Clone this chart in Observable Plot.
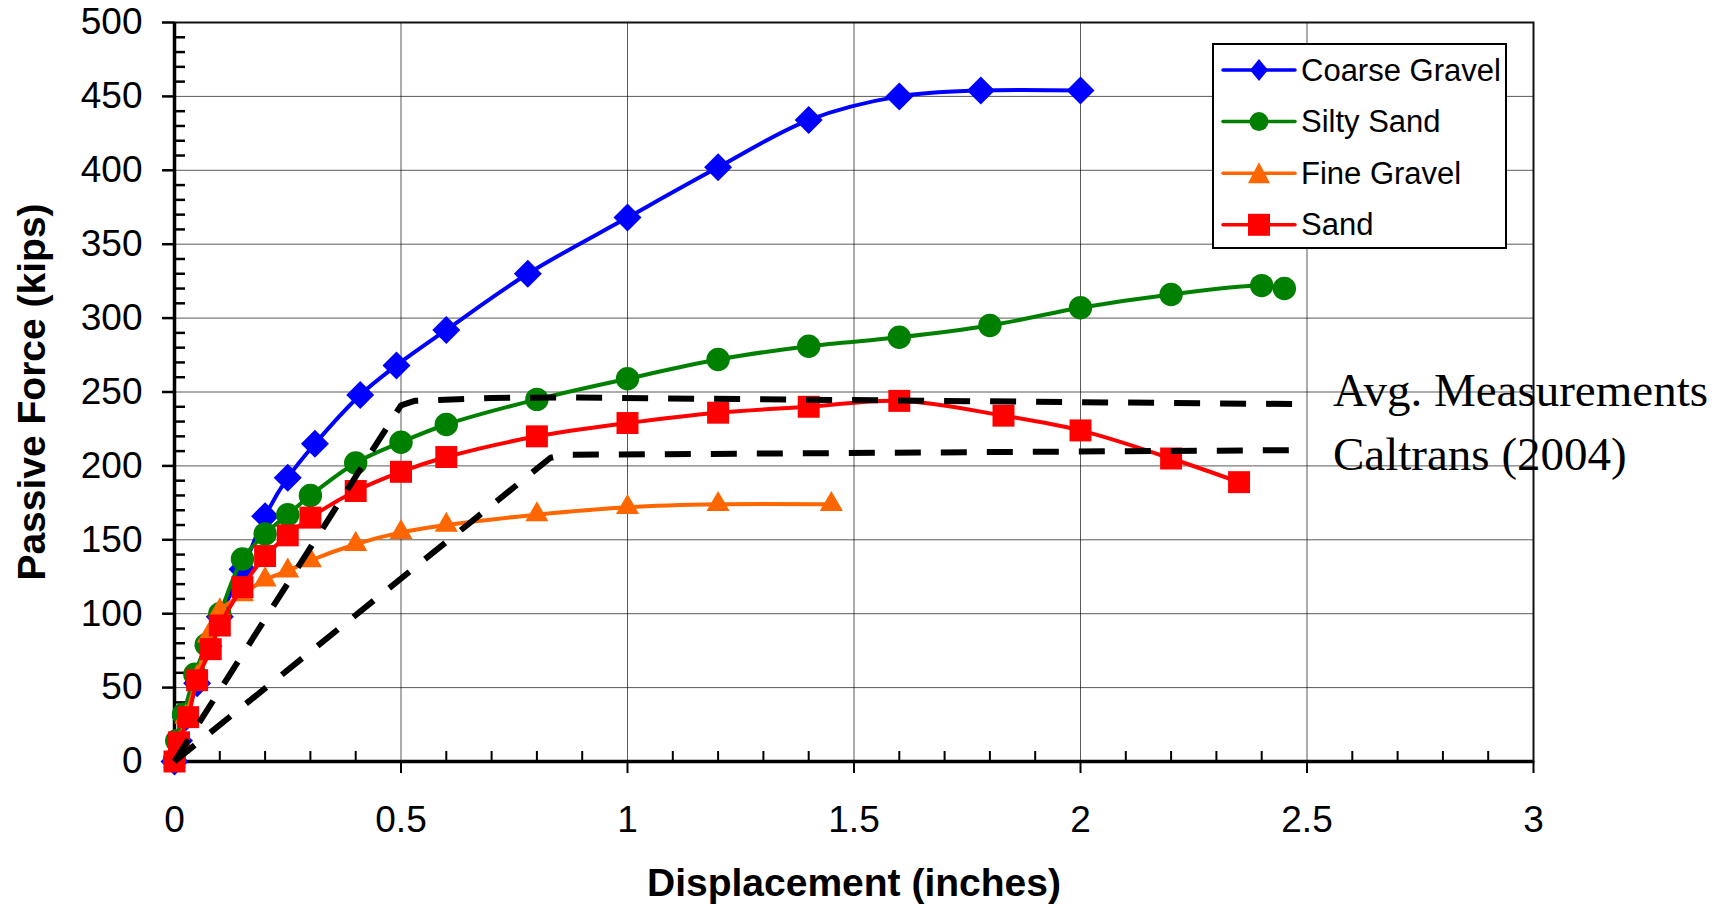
<!DOCTYPE html>
<html>
<head>
<meta charset="utf-8">
<script src="https://cdn.jsdelivr.net/npm/d3@7"></script>
<script src="https://cdn.jsdelivr.net/npm/@observablehq/plot@0.6"></script>
<style>
  html, body { margin: 0; padding: 0; background: #fff; }
  #chart { position: relative; width: 1736px; height: 906px; }
  #legend { position: absolute; left: 1212px; top: 43px; }
</style>
</head>
<body>
<div id="chart"></div>
<script>
// Passive force vs. wall displacement for four backfill types,
// with the averaged measurement and Caltrans (2004) design curves.

const coarseGravelX = [0, 0.01, 0.025, 0.05, 0.075, 0.1, 0.15, 0.2, 0.25, 0.31, 0.41, 0.49, 0.6, 0.78, 1.0, 1.2, 1.4, 1.6, 1.78, 2.0];
const coarseGravelY = [0, 14, 30, 53, 78, 98, 130, 166, 192, 215, 248, 268, 292, 330, 368, 402, 434, 450, 454, 454];

const siltySandX = [0, 0.005, 0.02, 0.045, 0.07, 0.1, 0.15, 0.2, 0.25, 0.3, 0.4, 0.5, 0.6, 0.8, 1.0, 1.2, 1.4, 1.6, 1.8, 2.0, 2.2, 2.4, 2.45];
const siltySandY = [1, 14, 32, 59, 79, 100, 137, 154, 167, 180, 202, 216, 228, 245, 259, 272, 281, 287, 295, 307, 316, 322, 320];

const fineGravelX = [0, 0.01, 0.025, 0.05, 0.075, 0.1, 0.15, 0.2, 0.25, 0.3, 0.4, 0.5, 0.6, 0.8, 1.0, 1.2, 1.45];
const fineGravelY = [0, 12, 30, 57, 85, 102, 113, 123, 129, 136, 147, 155, 160, 167, 172, 174, 174];

const sandX = [0, 0.01, 0.03, 0.05, 0.08, 0.1, 0.15, 0.2, 0.25, 0.3, 0.4, 0.5, 0.6, 0.8, 1.0, 1.2, 1.4, 1.6, 1.83, 2.0, 2.2, 2.35];
const sandY = [0, 13, 30, 55, 76, 92, 118, 139, 153, 165, 183, 196, 206, 220, 229, 236, 240, 244, 234, 224, 205, 189];

const avgMeasX = [0, 0.5, 0.53, 0.7, 0.85, 2.48];
const avgMeasY = [0, 241, 244, 246, 246.3, 241.8];

const caltransX = [0, 0.83, 0.86, 2.5];
const caltransY = [0, 205.5, 207.5, 210.7];

const xTicks = [0, 0.5, 1, 1.5, 2, 2.5, 3];
const yTicks = [0, 50, 100, 150, 200, 250, 300, 350, 400, 450, 500];
const xLabel = "Displacement (inches)";
const yLabel = "Passive Force (kips)";
const avgLabel = "Avg. Measurements";
const caltransLabel = "Caltrans (2004)";

const seriesNames = ["Coarse Gravel", "Silty Sand", "Fine Gravel", "Sand"];
const seriesColors = ["#0000ff", "#008000", "#ff6600", "#ff0000"];

// Layout
const W = 1736, H = 906;
const mL = 174, mR = 203, mT = 22, mB = 145;
const frameW = W - mL - mR, frameH = H - mT - mB;

const toRows = (xs, ys) => xs.map((x, i) => ({x, y: ys[i]}));
const coarse = toRows(coarseGravelX, coarseGravelY);
const silty = toRows(siltySandX, siltySandY);
const fine = toRows(fineGravelX, fineGravelY);
const sand = toRows(sandX, sandY);
const avgMeas = toRows(avgMeasX, avgMeasY);
const caltrans = toRows(caltransX, caltransY);

const yMinor = d3.range(10, 500, 10).filter(v => v % 50 !== 0);
const xMinor = d3.range(1, 30).map(v => v / 10).filter(v => Math.round(v * 10) % 5 !== 0);

function series(data, color, symbol, r) {
  return [
    Plot.line(data, {x: "x", y: "y", stroke: color, strokeWidth: 4, curve: "catmull-rom"}),
    Plot.dot(data, {x: "x", y: "y", symbol, r, fill: color, stroke: "none"})
  ];
}

const chart = Plot.plot({
  width: W, height: H,
  marginLeft: mL, marginRight: mR, marginTop: mT, marginBottom: mB,
  x: {domain: [0, 3]},
  y: {domain: [0, 500]},
  style: {fontFamily: '"Liberation Sans", Arial, sans-serif', background: "white", color: "#000", overflow: "visible"},
  marks: [
    Plot.gridX({ticks: xTicks.slice(1), stroke: "#000", strokeOpacity: 0.65, strokeWidth: 1}),
    Plot.gridY({ticks: yTicks.slice(1), stroke: "#000", strokeOpacity: 0.65, strokeWidth: 1}),
    Plot.frame({stroke: "#111", strokeWidth: 2}),
    // inward minor ticks
    Plot.ruleY(yMinor, {y: d => d, insetRight: frameW - 11, stroke: "#000", strokeWidth: 2.5}),
    Plot.ruleX(xMinor, {x: d => d, insetTop: frameH - 10, stroke: "#000", strokeWidth: 2}),
    // outward major ticks with labels
    Plot.axisY({ticks: yTicks, tickSize: 12, tickPadding: 20, tickFormat: d => String(d), fontSize: 37, strokeWidth: 2.5, label: null}),
    Plot.axisX({ticks: xTicks, tickSize: 12, tickPadding: 32, tickFormat: d => String(d), fontSize: 37, strokeWidth: 2, label: null}),
    Plot.ruleX([0], {stroke: "#000", strokeWidth: 3.5}),
    Plot.ruleY([0], {stroke: "#000", strokeWidth: 3.5}),
    // measured curves
    ...series(coarse, seriesColors[0], "diamond2", 12.6),
    ...series(silty, seriesColors[1], "circle", 11.7),
    ...series(fine, seriesColors[2], "triangle", 8.6),
    ...series(sand, seriesColors[3], "square", 12.4),
    // reference curves
    Plot.line(avgMeas, {x: "x", y: "y", stroke: "#000", strokeWidth: 6, strokeDasharray: "26,20", strokeLinecap: "butt", strokeLinejoin: "miter"}),
    Plot.line(caltrans, {x: "x", y: "y", stroke: "#000", strokeWidth: 6, strokeDasharray: "26,20", strokeLinecap: "butt", strokeLinejoin: "miter"}),
    Plot.text(avgMeas, Plot.selectLast({x: "x", y: "y", text: () => avgLabel, textAnchor: "start", dx: 35, dy: -13,
      fontFamily: '"Liberation Serif", "Times New Roman", serif', fontSize: 47, fill: "#000", ariaLabel: "curve labels"})),
    Plot.text(caltrans, Plot.selectLast({x: "x", y: "y", text: () => caltransLabel, textAnchor: "start", dx: 26, dy: 5,
      fontFamily: '"Liberation Serif", "Times New Roman", serif', fontSize: 47, fill: "#000", ariaLabel: "curve labels"})),
    // axis titles
    Plot.text([yLabel], {text: d => d, frameAnchor: "left", dx: -142, rotate: -90, textAnchor: "middle", lineAnchor: "middle",
      fontSize: 39, fontWeight: "bold", fill: "#000"}),
    Plot.text([xLabel], {text: d => d, frameAnchor: "bottom", dy: 122, textAnchor: "middle", lineAnchor: "middle",
      fontSize: 39, fontWeight: "bold", fill: "#000"})
  ]
});

// soft drop shadow under the curve labels
const svgSel = d3.select(chart);
const defs = svgSel.insert("defs", ":first-child");
defs.append("filter").attr("id", "label-shadow").attr("x", "-10%").attr("y", "-20%").attr("width", "130%").attr("height", "160%")
  .append("feDropShadow").attr("dx", 2.5).attr("dy", 3).attr("stdDeviation", 1.2)
  .attr("flood-color", "#000").attr("flood-opacity", 0.45);
svgSel.selectAll('g[aria-label="curve labels"]').attr("filter", "url(#label-shadow)");

const container = document.getElementById("chart");
container.appendChild(chart);

// Legend box
const legendW = 295, legendH = 206;
const legend = d3.create("svg").attr("id", "legend").attr("width", legendW).attr("height", legendH)
  .style("font-family", '"Liberation Sans", Arial, sans-serif');
legend.append("rect").attr("x", 1).attr("y", 1).attr("width", legendW - 2).attr("height", legendH - 2)
  .attr("fill", "#fff").attr("stroke", "#000").attr("stroke-width", 2);

const legendShapes = [
  "M0,-11L9,0L0,11L-9,0Z",
  null,
  "M0,-11L11,10L-11,10Z",
  "M-11,-11H11V11H-11Z"
];
seriesNames.forEach((name, i) => {
  const g = legend.append("g").attr("transform", `translate(0,${27 + i * 51.6})`);
  g.append("line").attr("x1", 11).attr("x2", 83).attr("y1", 0).attr("y2", 0)
    .attr("stroke", seriesColors[i]).attr("stroke-width", 3.5).attr("stroke-linecap", "round");
  if (legendShapes[i]) {
    g.append("path").attr("d", legendShapes[i]).attr("transform", "translate(47,0)").attr("fill", seriesColors[i]);
  } else {
    g.append("circle").attr("cx", 47).attr("cy", 0).attr("r", 9.5).attr("fill", seriesColors[i]);
  }
  g.append("text").attr("x", 89).attr("y", 10.5).attr("font-size", 31).attr("fill", "#000").text(name);
});
container.appendChild(legend.node());
</script>
</body>
</html>
